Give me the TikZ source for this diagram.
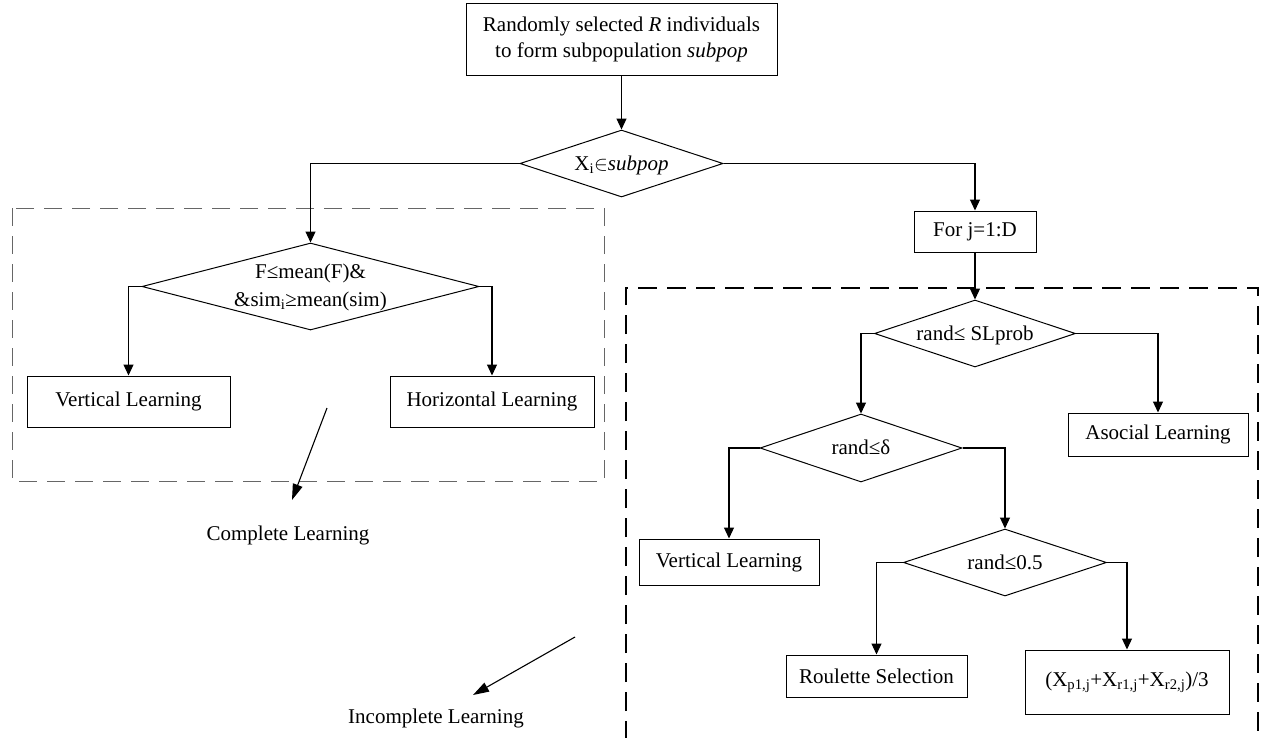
\documentclass[tikz,border=0pt]{standalone}
\usepackage{fontspec}
\setmainfont{Liberation Serif}
\usetikzlibrary{shapes.geometric,arrows.meta}
\newcommand\dtext[1]{\makebox[0pt]{\raisebox{-0.33em}[0pt][0pt]{#1}}}
\newcommand\dtwo[1]{\makebox[0pt]{\raisebox{-0.25em}[0pt][0pt]{\renewcommand\arraystretch{1.08}\begin{tabular}{@{}c@{}}#1\end{tabular}}}}
\begin{document}
\begin{tikzpicture}[x=1pt,y=-1pt,
  font=\fontsize{21}{26}\selectfont,
  box/.style={draw,line width=1pt,inner sep=0pt,align=center},
  dia/.style={draw,diamond,line width=1pt,inner sep=0pt},
  arr/.style={line width=1.2pt,-{Triangle[length=11pt,width=10pt]}},
  freearr/.style={line width=1.1pt,-{Triangle[length=16pt,width=10pt]}},
  lightdash/.style={draw=black!60,line width=1pt,dash pattern=on 18pt off 10pt},
  heavydash/.style={draw=black,line width=2.4pt,dash pattern=on 19pt off 10pt}]
\useasboundingbox (0,0) rectangle (1262,737);

% dashed groups
\draw[lightdash] (12,208) rectangle (604,481);
\draw[heavydash] (626,740) -- (626,288) -- (1258,288) -- (1258,740);

% nodes
\node[box,minimum width=311pt,minimum height=72pt] (top) at (621.5,39)
  {Randomly selected \textit{R} individuals\\to form subpopulation \textit{subpop}};
\node[dia,minimum width=203pt,minimum height=67pt] (d1) at (621.5,163.5)
  {\dtext{X\textsubscript{i}$\in$\textit{subpop}}};
\node[dia,minimum width=337pt,minimum height=87pt] (d2) at (310.5,286.5)
  {\dtwo{F≤mean(F)\&\\\&sim\textsubscript{i}≥mean(sim)}};
\node[box,minimum width=203pt,minimum height=51pt] (vl1) at (128.5,401.5) {Vertical Learning};
\node[box,minimum width=204pt,minimum height=51pt] (hl) at (492,401.5) {Horizontal Learning};

\node[box,minimum width=122pt,minimum height=41pt] (for) at (975,231.5) {For j=1:D};
\node[dia,minimum width=201pt,minimum height=67pt] (d3) at (975,333.5)
  {\dtext{rand≤ SLprob}};
\node[box,minimum width=180pt,minimum height=43pt] (aso) at (1158,434.5) {Asocial Learning};
\node[dia,minimum width=202pt,minimum height=68pt] (d4) at (861,448)
  {\dtext{rand≤δ}};
\node[box,minimum width=180pt,minimum height=46pt] (vl2) at (729,562) {Vertical Learning};
\node[dia,minimum width=203pt,minimum height=67pt] (d5) at (1005,562.5)
  {\dtext{rand≤0.5}};
\node[box,minimum width=181pt,minimum height=42pt] (rou) at (876.5,676) {Roulette Selection};
\node[box,minimum width=204pt,minimum height=64pt] (form) at (1127,682)
  {(X\textsubscript{p1,j}+X\textsubscript{r1,j}+X\textsubscript{r2,j})/3};

\node (cl) at (288,535) {Complete Learning};
\node (il) at (436,718) {Incomplete Learning};
\coordinate (cla) at (327,408);
\coordinate (clb) at (292,500);
\coordinate (ila) at (575,637);
\coordinate (ilb) at (473,695);

% connectors
\draw[arr] (top) -- (d1);
\draw[arr] (d1.west) -| (d2.north);
\draw[arr] (d1.east) -| (for.north);
\draw[arr] (d2.west) -| (vl1.north);
\draw[arr] (d2.east) -| (hl.north);
\draw[arr] (for) -- (d3);
\draw[arr] (d3.west) -| (d4.north);
\draw[arr] (d3.east) -| (aso.north);
\draw[arr] (d4.west) -| (vl2.north);
\draw[arr] (d4.east) -| (d5.north);
\draw[arr] (d5.west) -| (rou.north);
\draw[arr] (d5.east) -| (form.north);
\draw[freearr] (cla) -- (clb);
\draw[freearr] (ila) -- (ilb);
\end{tikzpicture}
\end{document}
